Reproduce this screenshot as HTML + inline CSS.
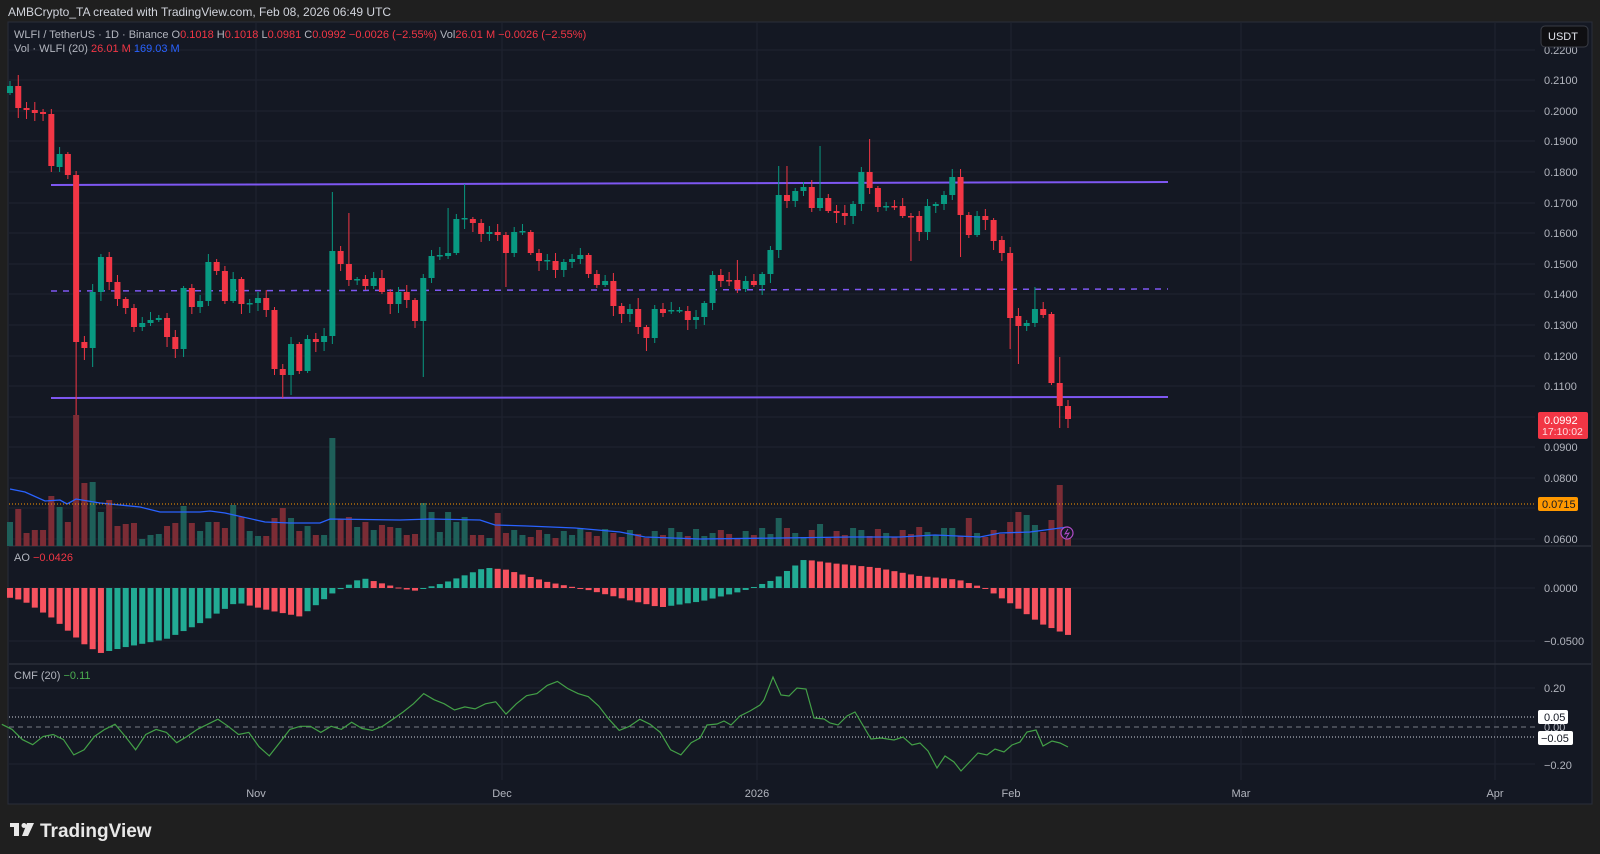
<!DOCTYPE html>
<html><head><meta charset="utf-8"><style>
html,body{margin:0;padding:0;background:#1f1f1f;width:1600px;height:854px;overflow:hidden}
svg{display:block}
text{font-family:"Liberation Sans",sans-serif}
</style></head><body>
<svg id="s" width="1600" height="854" viewBox="0 0 1600 854" xmlns="http://www.w3.org/2000/svg">
<rect x="0" y="0" width="1600" height="854" fill="#1f1f1f"/>
<rect x="8" y="22" width="1584" height="782" fill="#141823" stroke="#2a2e39" stroke-width="1"/>
<g id="grid"></g>
<g id="main"></g>
<text x="8" y="16" font-size="12" fill="#d1d4dc">AMBCrypto_TA created with TradingView.com, Feb 08, 2026 06:49 UTC</text>
<text x="14" y="38" font-size="11" fill="#b2b5be">WLFI / TetherUS · 1D · Binance  O<tspan fill="#f23645">0.1018</tspan>  H<tspan fill="#f23645">0.1018</tspan>  L<tspan fill="#f23645">0.0981</tspan>  C<tspan fill="#f23645">0.0992  −0.0026 (−2.55%)</tspan>  Vol<tspan fill="#f23645">26.01 M  −0.0026 (−2.55%)</tspan></text>
<text x="14" y="52" font-size="11" fill="#b2b5be">Vol · WLFI (20)  <tspan fill="#f23645">26.01 M</tspan>  <tspan fill="#2962ff">169.03 M</tspan></text>
<text x="14" y="561" font-size="11" fill="#b2b5be">AO  <tspan fill="#f23645">−0.0426</tspan></text>
<text x="14" y="679" font-size="11" fill="#b2b5be">CMF (20)  <tspan fill="#4caf50">−0.11</tspan></text>
<g font-size="11" fill="#b2b5be">
<text x="1544" y="54">0.2200</text>
<text x="1544" y="84">0.2100</text>
<text x="1544" y="115">0.2000</text>
<text x="1544" y="145">0.1900</text>
<text x="1544" y="176">0.1800</text>
<text x="1544" y="207">0.1700</text>
<text x="1544" y="237">0.1600</text>
<text x="1544" y="268">0.1500</text>
<text x="1544" y="298">0.1400</text>
<text x="1544" y="329">0.1300</text>
<text x="1544" y="360">0.1200</text>
<text x="1544" y="390">0.1100</text>
<text x="1544" y="451">0.0900</text>
<text x="1544" y="482">0.0800</text>
<text x="1544" y="543">0.0600</text>
<text x="1544" y="592">0.0000</text>
<text x="1544" y="645">−0.0500</text>
<text x="1544" y="692">0.20</text>
<text x="1544" y="731">0.00</text>
<text x="1544" y="769">−0.20</text>
</g>
<rect x="1541" y="26" width="47" height="21" rx="4" fill="#0f0f12" stroke="#3a3d46"/>
<text x="1548" y="40" font-size="11" fill="#e0e3eb">USDT</text>
<rect x="1538" y="412" width="50" height="27" rx="2" fill="#f23645"/>
<text x="1544" y="424" font-size="11" fill="#ffffff">0.0992</text>
<text x="1542" y="435" font-size="10.5" fill="#ffdde0">17:10:02</text>
<rect x="1538" y="497" width="40" height="14" rx="2" fill="#ff9800"/>
<text x="1542" y="508" font-size="11" fill="#131722">0.0715</text>
<rect x="1538" y="710" width="30" height="14" rx="2" fill="#ffffff"/>
<text x="1544" y="721" font-size="11" fill="#131722">0.05</text>
<rect x="1538" y="731" width="35" height="14" rx="2" fill="#ffffff"/>
<text x="1541" y="742" font-size="11" fill="#131722">−0.05</text>
<g font-size="11" fill="#b2b5be" text-anchor="middle">
<text x="256" y="797">Nov</text>
<text x="502" y="797">Dec</text>
<text x="757" y="797">2026</text>
<text x="1011" y="797">Feb</text>
<text x="1241" y="797">Mar</text>
<text x="1495" y="797">Apr</text>
</g>
<g fill="#e8e8e8">
<rect x="10" y="823" width="9" height="4"/><rect x="14" y="823" width="5" height="13"/>
<circle cx="24" cy="825.5" r="2.5"/>
<polygon points="27,823 34,823 28,836 22,836"/>
</g>
<text x="40" y="837" font-size="19" font-weight="bold" fill="#e8e8e8">TradingView</text>
</svg>
<script>
(function(){
var NS="http://www.w3.org/2000/svg";
var G=document.getElementById('grid'),M=document.getElementById('main');
function el(p,tag,a){var e=document.createElementNS(NS,tag);for(var k in a)e.setAttribute(k,a[k]);p.appendChild(e);return e;}
var ys=[50,80,111,141,172,203,233,264,294,325,356,386,417,447,478,508,539];
ys.forEach(function(y){el(G,'line',{x1:9,x2:1535,y1:y,y2:y,stroke:'#1f2330','stroke-width':1});});
[588,641,688,764].forEach(function(y){el(G,'line',{x1:9,x2:1535,y1:y,y2:y,stroke:'#1f2330','stroke-width':1});});
[256,502,757,1011,1241,1495].forEach(function(x){el(G,'line',{x1:x,x2:x,y1:23,y2:780,stroke:'#1f2330','stroke-width':1});});
el(G,'line',{x1:9,x2:1591,y1:546,y2:546,stroke:'#2a2e39','stroke-width':1.5});
el(G,'line',{x1:9,x2:1591,y1:664,y2:664,stroke:'#2a2e39','stroke-width':1.5});
var C=[[93,86],[86,108],[108,110],[110,113],[112,114],[114,166],[167,154],[154,175],[175,342],[342,348],[348,292],[292,257],[257,282],[282,299],[299,308],[308,327],[327,323],[323,320],[320,318],[318,337],[337,349],[349,288],[288,307],[307,301],[301,262],[262,271],[271,301],[301,279],[279,304],[304,303],[303,298],[298,310],[310,369],[369,375],[375,344],[344,371],[371,339],[339,342],[342,336],[336,251],[251,264],[264,280],[280,279],[279,286],[286,278],[278,292],[292,304],[304,292],[292,300],[300,321],[321,278],[278,256],[256,255],[256,253],[253,219],[219,218],[219,223],[223,234],[234,232],[232,235],[235,253],[253,232],[232,231],[232,253],[253,261],
[261,260],[261,270],[270,262],[262,259],[259,255],[255,274],[274,285],[285,281],[281,306],[306,314],[314,309],[309,327],[327,338],[338,309],[309,313],[311,310],[311,310],[311,320],[320,317],[317,303],[303,275],[275,281],[280,281],[280,289],[289,281],[281,285],[285,274],[274,250],[250,195],[195,201],[201,191],[191,187],[187,208],[208,198],[198,211],[211,213],[213,216],[216,204],[204,172],[172,188],[188,207],[207,206],[206,207],[206,216],[216,217],[216,232],[232,206],[206,204],[204,195],[195,177],[177,215],[215,235],[235,216],[216,220],[220,241],[240,253],[253,318],[316,326],[326,323],[323,309],[309,315],[314,383],[383,406],[406,419]];
var HI={0:81,1:75,39:192,41:213,55:184,53:208,104:139,98:146,93:166,94:166,114:169,124:287,127:357,88:260,76:298};
var LO={8:415,50:377,33:398,34:395,10:367,9:360,60:287,109:261,121:349,122:364,127:428,115:257,77:351};
var N=C.length,x0=10,dx=(1068-10)/(N-1);
function X(i){return x0+i*dx;}
var V=[522,509,533,530,530,496,507,522,415,483,482,512,500,526,524,523,539,535,534,526,523,506,523,531,522,522,528,505,517,531,536,536,518,508,518,531,526,535,535,438,519,517,527,522,530,525,527,528,535,534,503,512,532,512,522,517,535,535,538,513,533,530,535];
var VO={93:518,94:528,98:524,110:527,116:518,122:512,123:515,124:525,127:485,128:530,103:530,114:528,121:522,126:520,111:532,84:536,85:533,92:534};
for(var i=0;i<N;i++){var top=V[i]!==undefined?V[i]:(VO[i]!==undefined?VO[i]:538-((i*29)%11));
 var up=C[i][1]<C[i][0];
 el(M,'rect',{x:X(i)-3,y:top,width:6,height:546-top,fill:up?'#1e5f59':'#7b2c35'});}
var VM=[[10,489],[25,492],[45,501],[60,500],[67,504],[76,499],[100,503],[140,507],[160,512],[200,512],[210,511],[225,513],[265,522],[290,523],[320,523],[330,519],[400,520],[430,519],[480,520],[495,525],[527,526],[575,528],[620,532],[645,537],[700,539],[780,538],[850,537],[900,537],[935,535],[980,537],[1000,533],[1030,532],[1068,527]];
el(M,'polyline',{points:VM.map(function(p){return p.join(',')}).join(' '),fill:'none',stroke:'#2962ff','stroke-width':1.3});
el(M,'line',{x1:9,x2:1536,y1:504,y2:504,stroke:'#ff9800','stroke-width':1,'stroke-dasharray':'1,2'});
el(M,'line',{x1:51,x2:1168,y1:185,y2:182,stroke:'#7e57f2','stroke-width':2});
el(M,'line',{x1:51,x2:1168,y1:291,y2:289,stroke:'#7e57f2','stroke-width':1.5,'stroke-dasharray':'6,6'});
el(M,'line',{x1:51,x2:1168,y1:398,y2:397,stroke:'#7e57f2','stroke-width':2});
for(var i=0;i<N;i++){var o=C[i][0],c=C[i][1];
 var col=(c<o)?'#089981':(c>o?'#f23645':'#089981');
 var t=Math.min(o,c),b=Math.max(o,c);
 var h=HI[i]!==undefined?HI[i]:t-(2+(i*37)%7);
 var l=LO[i]!==undefined?LO[i]:b+(2+(i*53)%9);
 el(M,'line',{x1:X(i),x2:X(i),y1:h,y2:l,stroke:col,'stroke-width':1});
 el(M,'rect',{x:X(i)-3,y:t,width:6,height:Math.max(1.5,b-t),fill:col});}
var AK=[[10,-8],[30,-12],[60,-30],[90,-55],[105,-64],[130,-58],[170,-50],[200,-36],[238,-14],[270,-22],[300,-28],[330,-6],[360,10],[385,3],[410,-3],[440,5],[480,20],[500,18],[540,6],[580,-2],[620,-12],[650,-19],[690,-13],[730,-3],[760,8],[790,28],[820,24],[860,20],[900,12],[940,8],[965,0],[990,-15],[1020,-35],[1046,-46]];
AK=AK.map(function(p){return [1.029*p[0]-8.5,p[1]*1.02];});
function interp(K,x){if(x<=K[0][0])return K[0][1];for(var j=1;j<K.length;j++){if(x<=K[j][0]){var a=K[j-1],b=K[j];return a[1]+(b[1]-a[1])*(x-a[0])/(b[0]-a[0]);}}return K[K.length-1][1];}
var prev=null;
for(var i=0;i<N;i++){var v=interp(AK,X(i)),g=prev===null?false:v>prev;prev=v;
 var y0=588,y1=588-v;
 el(M,'rect',{x:X(i)-3,y:Math.min(y0,y1),width:6,height:Math.max(1,Math.abs(v)),fill:g?'#22ab94':'#f7525f'});}
el(M,'line',{x1:9,x2:1536,y1:717,y2:717,stroke:'#d1d4dc','stroke-width':1,'stroke-dasharray':'1,2'});
el(M,'line',{x1:9,x2:1536,y1:737,y2:737,stroke:'#d1d4dc','stroke-width':1,'stroke-dasharray':'1,2'});
el(M,'line',{x1:9,x2:1536,y1:727,y2:727,stroke:'#787b86','stroke-width':1,'stroke-dasharray':'5,4'});
var CE=[[10,710],[20,715],[30,725],[40,730],[50,722],[60,720],[70,725],[80,740],[90,735],[100,722],[110,715],[120,710],[130,722],[140,735],[150,720],[160,715],[170,718],[180,728],[190,722],[200,715],[210,710],[220,705],[230,712],[240,720],[250,718],[260,732],[270,741],[280,728],[290,715],[300,712],[310,712],[320,718],[330,712],[340,715],[350,708],[360,714],[370,716],[380,712],[390,705],[400,698],[410,690],[420,680],[430,686],[440,690],[450,696],[460,693],[470,695],[480,690],[490,688],[500,700],[510,690],[520,682],[530,680],[540,672],[550,668],[560,675],[570,680],[580,683],[590,692],[600,705],[610,716],[620,712],[630,705],[640,710],[650,718],[660,735],[670,740],[680,728]];
var pts=CE.map(function(p){return [1.029*p[0]-8.5,1.0215*p[1]-1];});
pts=pts.concat([[700,738],[707,725],[717,724],[724,721],[731,725],[740,716],[750,711],[760,705],[764,700],[773,677],[781,695],[789,696],[797,688],[806,689],[814,718],[824,719],[830,723],[838,725],[847,716],[855,712],[871,739],[881,738],[894,740],[903,737],[912,745],[920,743],[928,751],[937,768],[945,756],[954,762],[961,771],[978,753],[987,755],[995,749],[1004,752],[1012,745],[1020,742],[1027,732],[1036,730],[1043,746],[1052,741],[1060,743],[1068,747]]);
el(M,'polyline',{points:pts.map(function(p){return p[0].toFixed(1)+','+p[1].toFixed(1)}).join(' '),fill:'none',stroke:'#43a047','stroke-width':1.2});
el(M,'circle',{cx:1067,cy:533,r:6,fill:'#141823',stroke:'#b04cc8','stroke-width':1.2});
el(M,'polyline',{points:'1068,529 1065,534 1069,533 1066,538',fill:'none',stroke:'#b04cc8','stroke-width':1});
})();
</script>
</body></html>
